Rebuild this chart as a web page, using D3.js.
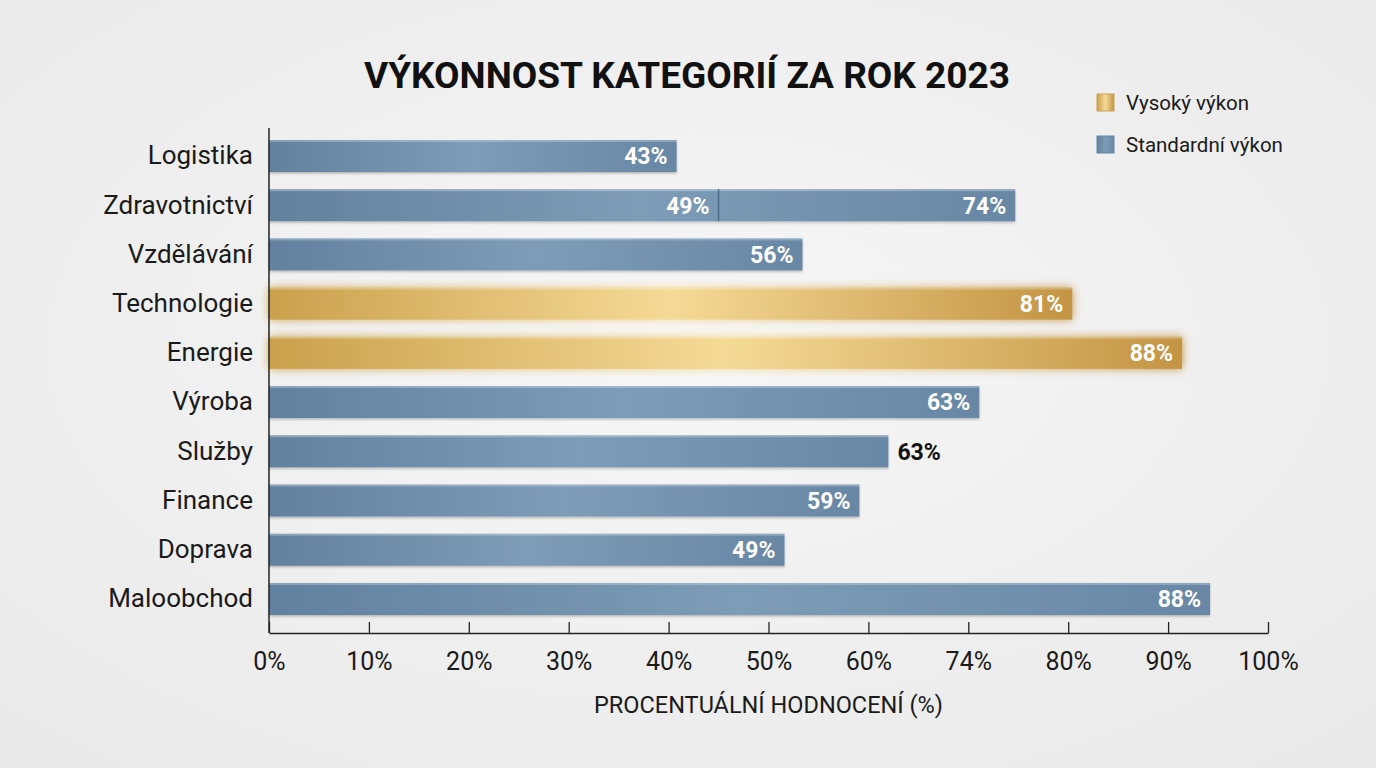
<!DOCTYPE html>
<html>
<head>
  <meta charset="utf-8">
  <title>Výkonnost kategorií za rok 2023</title>
  <script src="https://d3js.org/d3.v7.min.js"></script>
  <style>
    html, body {
      margin: 0;
      padding: 0;
      background: #efefef;
      font-family: Roboto, "Noto Sans", sans-serif;
    }
  </style>
</head>
<body>
  <div id="chart"></div>

  <script>
    // data
    let categories = ['Logistika', 'Zdravotnictví', 'Vzdělávání', 'Technologie', 'Energie',
                      'Výroba', 'Služby', 'Finance', 'Doprava', 'Maloobchod'];
    let values = [40.8, 74.7, 53.4, 80.4, 91.4, 71.1, 62.0, 59.1, 51.6, 94.2];
    let valueLabels = ['43%', '74%', '56%', '81%', '88%', '63%', '63%', '59%', '49%', '88%'];
    let highCategories = ['Technologie', 'Energie'];
    // Zdravotnictví bar is split in two parts
    let splitCategory = 'Zdravotnictví';
    let splitValue = 45.0;
    let splitLabel = '49%';
    // label drawn outside the bar
    let outsideCategories = ['Služby'];
    let tickValues = [0, 10, 20, 30, 40, 50, 60, 70, 80, 90, 100];
    let tickLabels = ['0%', '10%', '20%', '30%', '40%', '50%', '60%', '74%', '80%', '90%', '100%'];
    let legendItems = ['Vysoký výkon', 'Standardní výkon'];

    let width = 1376;
    let height = 768;
    let margin = { left: 269, right: 108, top: 131.4, bottom: 135 };

    let svg = d3.select('#chart')
      .append('svg')
      .attr('width', width)
      .attr('height', height);

    let defs = svg.append('defs');

    let bg = defs.append('radialGradient')
      .attr('id', 'bg')
      .attr('cx', '50%').attr('cy', '45%').attr('r', '70%');
    bg.append('stop').attr('offset', '0%').attr('stop-color', '#f7f7f7');
    bg.append('stop').attr('offset', '100%').attr('stop-color', '#e9e9e9');

    let blue = defs.append('linearGradient').attr('id', 'blueGrad');
    blue.append('stop').attr('offset', '0%').attr('stop-color', '#62819f');
    blue.append('stop').attr('offset', '50%').attr('stop-color', '#7d9cb7');
    blue.append('stop').attr('offset', '100%').attr('stop-color', '#6887a5');

    let gold = defs.append('linearGradient').attr('id', 'goldGrad');
    gold.append('stop').attr('offset', '0%').attr('stop-color', '#caa04c');
    gold.append('stop').attr('offset', '50%').attr('stop-color', '#f5da97');
    gold.append('stop').attr('offset', '100%').attr('stop-color', '#c39443');

    let glow = defs.append('filter').attr('id', 'glow')
      .attr('x', '-5%').attr('y', '-60%').attr('width', '110%').attr('height', '220%');
    glow.append('feGaussianBlur').attr('in', 'SourceGraphic').attr('stdDeviation', 5).attr('result', 'b');
    let merge = glow.append('feMerge');
    merge.append('feMergeNode').attr('in', 'b');
    merge.append('feMergeNode').attr('in', 'SourceGraphic');

    let shadow = defs.append('filter').attr('id', 'shadow')
      .attr('x', '-5%').attr('y', '-30%').attr('width', '110%').attr('height', '170%');
    shadow.append('feDropShadow').attr('dx', 0).attr('dy', 1.5).attr('stdDeviation', 1.2)
      .attr('flood-color', '#000').attr('flood-opacity', 0.25);

    svg.append('rect')
      .attr('width', width)
      .attr('height', height)
      .attr('fill', 'url(#bg)');

    let x = d3.scaleLinear()
      .domain([0, 100])
      .range([margin.left, width - margin.right]);

    let y = d3.scaleBand()
      .domain(categories)
      .range([margin.top, 623.6])
      .paddingInner(0.35)
      .paddingOuter(0.175);

    // title
    svg.append('text')
      .attr('x', 687)
      .attr('y', 88)
      .attr('text-anchor', 'middle')
      .style('font-size', '37px')
      .style('font-weight', 'bold')
      .style('fill', '#111')
      .text('VÝKONNOST KATEGORIÍ ZA ROK 2023');

    // bars
    let rows = categories.map((c, i) => ({ cat: c, value: values[i], label: valueLabels[i] }));

    let bars = svg.append('g');
    bars.selectAll('.bar')
      .data(rows)
      .enter()
      .append('rect')
      .attr('class', 'bar')
      .attr('x', x(0))
      .attr('y', d => y(d.cat))
      .attr('width', d => x(d.value) - x(0))
      .attr('height', y.bandwidth())
      .attr('fill', d => highCategories.includes(d.cat) ? 'url(#goldGrad)' : 'url(#blueGrad)')
      .attr('filter', d => highCategories.includes(d.cat) ? 'url(#glow)' : 'url(#shadow)');

    // top highlight line on each bar
    bars.selectAll('.hl')
      .data(rows)
      .enter()
      .append('rect')
      .attr('x', x(0))
      .attr('y', d => y(d.cat))
      .attr('width', d => x(d.value) - x(0))
      .attr('height', 2)
      .attr('fill', '#fff')
      .attr('opacity', 0.25);

    // split divider
    bars.append('line')
      .attr('x1', x(splitValue))
      .attr('x2', x(splitValue))
      .attr('y1', y(splitCategory))
      .attr('y2', y(splitCategory) + y.bandwidth())
      .attr('stroke', '#4f6d8a')
      .attr('stroke-width', 1.5);

    // value labels
    bars.selectAll('.val')
      .data(rows)
      .enter()
      .append('text')
      .attr('class', 'val')
      .attr('x', d => outsideCategories.includes(d.cat) ? x(d.value) + 9 : x(d.value) - 9)
      .attr('y', d => y(d.cat) + y.bandwidth() / 2)
      .attr('dy', '0.36em')
      .attr('text-anchor', d => outsideCategories.includes(d.cat) ? 'start' : 'end')
      .style('font-size', '23px')
      .style('font-weight', 'bold')
      .style('fill', d => outsideCategories.includes(d.cat) ? '#111' : '#fff')
      .text(d => d.label);

    bars.append('text')
      .attr('x', x(splitValue) - 9)
      .attr('y', y(splitCategory) + y.bandwidth() / 2)
      .attr('dy', '0.36em')
      .attr('text-anchor', 'end')
      .style('font-size', '23px')
      .style('font-weight', 'bold')
      .style('fill', '#fff')
      .text(splitLabel);

    // y axis
    let yAxis = svg.append('g')
      .attr('transform', 'translate(' + x(0) + ',0)')
      .call(d3.axisLeft(y).tickSize(0).tickPadding(16));
    yAxis.select('.domain').remove();
    yAxis.append('line')
      .attr('x1', 0).attr('x2', 0)
      .attr('y1', 128).attr('y2', 633)
      .attr('stroke', '#222').attr('stroke-width', 1.5);
    yAxis.selectAll('text')
      .style('font-size', '26px')
      .style('fill', '#1a1a1a')
      .style('font-family', 'Roboto, sans-serif');

    // x axis, ticks pointing up
    let xAxis = svg.append('g')
      .attr('transform', 'translate(0,633)')
      .call(d3.axisBottom(x)
        .tickValues(tickValues)
        .tickFormat((d, i) => tickLabels[i])
        .tickSize(-11)
        .tickSizeOuter(0)
        .tickPadding(19));
    xAxis.select('.domain').attr('stroke', '#222').attr('stroke-width', 1.5);
    xAxis.selectAll('.tick line').attr('stroke', '#222').attr('stroke-width', 1.3);
    xAxis.selectAll('text')
      .style('font-size', '25px')
      .style('fill', '#1a1a1a')
      .style('font-family', 'Roboto, sans-serif');

    svg.append('text')
      .attr('x', x(50))
      .attr('y', 713)
      .attr('text-anchor', 'middle')
      .style('font-size', '23.5px')
      .style('fill', '#1a1a1a')
      .text('PROCENTUÁLNÍ HODNOCENÍ (%)');

    // legend
    let legend = svg.append('g').attr('transform', 'translate(1097,94)');
    legendItems.forEach((name, i) => {
      let g = legend.append('g').attr('transform', 'translate(0,' + i * 42 + ')');
      g.append('rect')
        .attr('width', 17).attr('height', 17)
        .attr('fill', i === 0 ? 'url(#goldGrad)' : 'url(#blueGrad)')
        .attr('stroke', i === 0 ? '#c9a14f' : '#6685a2');
      g.append('text')
        .attr('x', 29)
        .attr('y', 8.5)
        .attr('dy', '0.36em')
        .style('font-size', '20.5px')
        .style('fill', '#1a1a1a')
        .text(name);
    });
  </script>
</body>
</html>
